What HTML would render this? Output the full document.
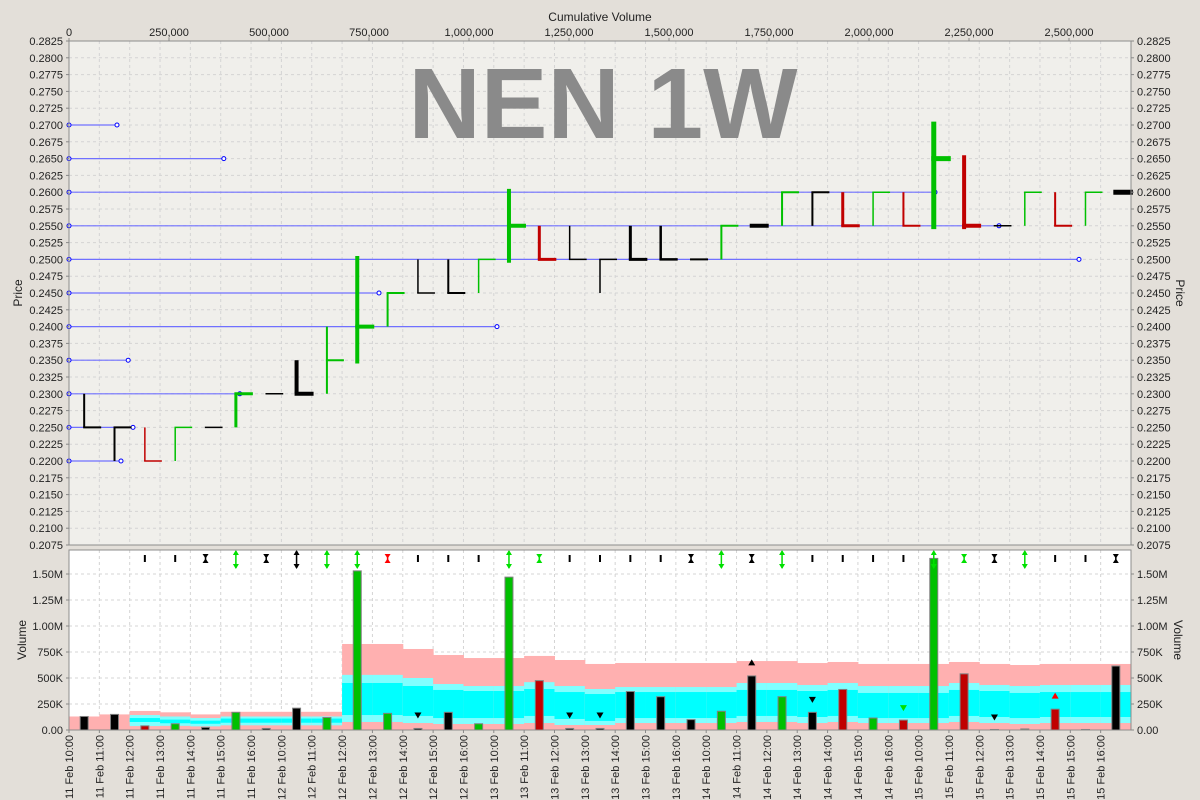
<!DOCTYPE html>
<html><head><meta charset="utf-8"><style>
html,body{margin:0;padding:0;background:#e3dfd9;}
svg{display:block;font-family:"Liberation Sans",sans-serif;}
</style></head><body>
<svg id="chart" width="1200" height="800" viewBox="0 0 1200 800" xmlns="http://www.w3.org/2000/svg">
<rect x="0" y="0" width="1200" height="800" fill="#e3dfd9"/>
<rect x="69" y="41" width="1062" height="504" fill="#f0efeb"/>
<rect x="69" y="550" width="1062" height="180" fill="#ffffff"/>
<g id="grid"></g>
<text x="603" y="138" text-anchor="middle" font-size="100" font-weight="bold" fill="#8a8a8a">NEN 1W</text>
<g id="bands"></g>
<g id="vbars"></g>
<g id="levels"></g>
<g id="pbars"></g>
<g id="markers"></g>
<g id="axes"></g>
<text x="600" y="21" text-anchor="middle" font-size="12" fill="#222">Cumulative Volume</text>
<text transform="translate(22,293) rotate(-90)" text-anchor="middle" font-size="12" fill="#222">Price</text>
<text transform="translate(1176,293) rotate(90)" text-anchor="middle" font-size="12" fill="#222">Price</text>
<text transform="translate(26,640) rotate(-90)" text-anchor="middle" font-size="12" fill="#222">Volume</text>
<text transform="translate(1174,640) rotate(90)" text-anchor="middle" font-size="12" fill="#222">Volume</text>
</svg>
<script>
const categories=["11 Feb 10:00","11 Feb 11:00","11 Feb 12:00","11 Feb 13:00","11 Feb 14:00","11 Feb 15:00","11 Feb 16:00",
"12 Feb 10:00","12 Feb 11:00","12 Feb 12:00","12 Feb 13:00","12 Feb 14:00","12 Feb 15:00","12 Feb 16:00",
"13 Feb 10:00","13 Feb 11:00","13 Feb 12:00","13 Feb 13:00","13 Feb 14:00","13 Feb 15:00","13 Feb 16:00",
"14 Feb 10:00","14 Feb 11:00","14 Feb 12:00","14 Feb 13:00","14 Feb 14:00","14 Feb 15:00","14 Feb 16:00",
"15 Feb 10:00","15 Feb 11:00","15 Feb 12:00","15 Feb 13:00","15 Feb 14:00","15 Feb 15:00","15 Feb 16:00"];
const highs=[.2300,.2250,.2250,.2250,.2250,.2300,.2300,.2350,.2400,.2505,.2450,.2500,.2500,.2500,.2605,.2550,.2550,.2500,.2550,.2550,.2500,.2550,.2550,.2600,.2600,.2600,.2600,.2600,.2705,.2655,.2550,.2600,.2600,.2600,.2600];
const lows=[.2250,.2200,.2200,.2200,.2250,.2250,.2300,.2300,.2300,.2345,.2400,.2450,.2450,.2450,.2495,.2500,.2500,.2450,.2500,.2500,.2500,.2500,.2550,.2550,.2550,.2550,.2550,.2550,.2545,.2545,.2550,.2550,.2550,.2550,.2600];
const closes=[.2250,.2250,.2200,.2250,.2250,.2300,.2300,.2300,.2350,.2400,.2450,.2450,.2450,.2500,.2550,.2500,.2500,.2500,.2500,.2500,.2500,.2550,.2550,.2600,.2600,.2550,.2600,.2550,.2650,.2550,.2550,.2600,.2550,.2600,.2600];
const barColors=["k","k","r","g","k","g","k","k","g","g","g","k","k","g","g","r","k","k","k","k","k","g","k","g","k","r","g","r","g","r","k","g","r","g","k"];
const barWeights=[2,2,1.5,1.5,1.5,3,1.5,4,2,4,2,1.5,2,1.5,4,3,1.5,1.5,3,2.5,2,2,4,2,2,3,1.5,2,5,4,1.5,1.5,2,1.5,5];
const volumes=[130000,150000,40000,60000,25000,170000,15000,210000,120000,1530000,160000,15000,170000,60000,1470000,475000,15000,15000,370000,320000,100000,180000,520000,320000,170000,390000,115000,95000,1650000,540000,5000,10000,200000,5000,615000];
const bandPinkTop=[130,150,183,170,150,175,175,175,175,827,827,779,721,692,692,712,673,635,644,644,644,644,663,663,644,654,635,635,635,654,635,625,635,635,635];
const bandLightTop=[0,0,144,130,115,130,130,130,130,530,530,500,442,423,423,460,423,394,413,413,413,413,452,452,433,452,423,423,423,452,433,423,433,433,433];
const bandCyanTop=[0,0,115,100,90,110,110,110,110,452,452,423,385,375,375,394,365,346,365,365,365,365,385,385,375,385,356,356,356,385,375,356,365,365,365];
const bandCyanBot=[0,0,77,65,60,70,70,70,70,144,144,135,115,115,115,135,106,87,115,115,115,115,135,135,125,135,115,115,115,135,125,115,125,125,125];
const bandLightBot=[0,0,38,40,35,45,45,45,45,77,77,67,58,58,58,67,48,48,67,67,67,67,77,77,67,77,67,67,67,77,67,58,67,67,67];
const levelPrices=[.2700,.2650,.2600,.2550,.2500,.2450,.2400,.2350,.2300,.2250,.2200];
const levelVolumes=[120000,387000,2165000,2325000,2525000,775000,1070000,148000,427000,160000,130000];
const topMarkerTypes=["","","I","I","H","A","H","A","A","A","H","I","I","I","A","H","I","I","I","I","H","A","H","A","I","I","I","I","A","H","H","A","I","I","H"];
const topMarkerColors=["","","k","k","k","g","k","k","g","g","r","k","k","k","g","g","k","k","k","k","k","g","k","g","k","k","k","k","g","g","k","g","k","k","k"];
const triMarkerValues=[null,null,null,null,null,null,null,null,null,null,null,140000,null,null,null,null,140000,140000,220000,null,null,null,650000,null,290000,null,null,210000,null,null,120000,null,330000,null,null];
const triMarkerDirs=["","","","","","","","","","","","v","","","","","v","v","v","","","","^","","v","","","v","","","v","","^","",""];
const triMarkerColors=["","","","","","","","","","","","k","","","","","k","k","k","","","","k","","k","","","g","","","k","","r","",""];
const priceTicks=[.2825,.2800,.2775,.2750,.2725,.2700,.2675,.2650,.2625,.2600,.2575,.2550,.2525,.2500,.2475,.2450,.2425,.2400,.2375,.2350,.2325,.2300,.2275,.2250,.2225,.2200,.2175,.2150,.2125,.2100,.2075];
const volTicks=[0,250000,500000,750000,1000000,1250000,1500000];
const volTickLabels=["0.00","250K","500K","750K","1.00M","1.25M","1.50M"];
const cumTicks=[0,250000,500000,750000,1000000,1250000,1500000,1750000,2000000,2250000,2500000];
const cumTickLabels=["0","250,000","500,000","750,000","1,000,000","1,250,000","1,500,000","1,750,000","2,000,000","2,250,000","2,500,000"];

const NS="http://www.w3.org/2000/svg";
const PL=69,PR=1131,PT=41,PB=545,VT=550,VB=730;
const catW=(PR-PL)/categories.length;
const COL={k:"#000",r:"#c00000",g:"#00c000"};
function yP(p){return PT+(0.2825-p)/(0.2825-0.2075)*(PB-PT);}
function yV(v){return VB-v/1750000*(VB-548);}
function xCat(i){return PL+(i+0.5)*catW;}
function xEdge(i){return PL+i*catW;}
function xCum(v){return PL+v/2500000*1000;}
function mk(tag,attrs,parent){const e=document.createElementNS(NS,tag);for(const k in attrs)e.setAttribute(k,attrs[k]);parent.appendChild(e);return e;}

const grid=document.getElementById('grid');
for(let i=1;i<categories.length;i++){
  let l=mk('line',{x1:xEdge(i),x2:xEdge(i),y1:PT,y2:PB,stroke:"#d4d4d4","stroke-dasharray":"3,3"},grid);
  
  
  let l2=mk('line',{x1:xEdge(i),x2:xEdge(i),y1:VT,y2:VB,stroke:"#d4d4d4","stroke-dasharray":"3,3"},grid);
  
  
}
priceTicks.forEach(p=>{
  let l=mk('line',{x1:PL,x2:PR,y1:yP(p),y2:yP(p),stroke:"#d4d4d4","stroke-dasharray":"3,3"},grid);
  
  
});
volTicks.forEach(v=>{
  let l=mk('line',{x1:PL,x2:PR,y1:yV(v),y2:yV(v),stroke:"#d4d4d4","stroke-dasharray":"3,3"},grid);
  
  
});

const bands=document.getElementById('bands');
function band(i,top,bot,fill,name){
  if(top<=bot)return;
  const r=mk('rect',{x:xEdge(i),y:yV(top*1000),width:catW+0.5,height:yV(bot*1000)-yV(top*1000),fill:fill},bands);
  
  
}
for(let i=0;i<categories.length;i++){
  band(i,bandPinkTop[i],0,"#ffb0b0","band-pink");
  band(i,bandLightTop[i],bandLightBot[i],"#80ffff","band-light-cyan");
  band(i,bandCyanTop[i],bandCyanBot[i],"#00ffff","band-cyan");
}

const vb=document.getElementById('vbars');
volumes.forEach((v,i)=>{
  const r=mk('rect',{x:xCat(i)-4,y:yV(v),width:8,height:VB-yV(v),fill:COL[barColors[i]],stroke:"#808080","stroke-width":1},vb);
  
  
});

const lv=document.getElementById('levels');
levelPrices.forEach((p,i)=>{
  const l=mk('line',{x1:PL,x2:xCum(levelVolumes[i]),y1:yP(p),y2:yP(p),stroke:"#7070ff","stroke-width":1.2},lv);
  
  
  const c=mk('circle',{cx:xCum(levelVolumes[i]),cy:yP(p),r:2,fill:"#fff",stroke:"#0000ff","stroke-width":1},lv);
  
  
  const c0=mk('circle',{cx:PL,cy:yP(p),r:2,fill:"#fff",stroke:"#0000ff","stroke-width":1},lv);
  
  
});

const pb=document.getElementById('pbars');
highs.forEach((h,i)=>{
  const g=mk('g',{},pb);
  
  
  const x=xCat(i),w=barWeights[i],c=COL[barColors[i]];
  if(h>lows[i]) mk('line',{x1:x,x2:x,y1:yP(h),y2:yP(lows[i]),stroke:c,"stroke-width":w},g);
  mk('line',{x1:x-w/2,x2:x+17,y1:yP(closes[i]),y2:yP(closes[i]),stroke:c,"stroke-width":w},g);
});

const mg=document.getElementById('markers');
topMarkerTypes.forEach((t,i)=>{
  if(!t)return;
  const x=xCat(i),c=topMarkerColors[i]==="g"?"#00e000":(topMarkerColors[i]==="r"?"#ff0000":"#000");
  const g=mk('g',{},mg);
  
  
  if(t==="I"){mk('line',{x1:x,x2:x,y1:555,y2:562,stroke:c,"stroke-width":2},g);}
  else if(t==="H"){mk('path',{d:`M${x-3},554 L${x+3},554 L${x},558.5 Z M${x-3},563 L${x+3},563 L${x},558.5 Z`,fill:c},g);mk('line',{x1:x,x2:x,y1:554,y2:563,stroke:c,"stroke-width":1.5},g);}
  else {mk('line',{x1:x,x2:x,y1:551,y2:568,stroke:c,"stroke-width":1.5},g);mk('path',{d:`M${x-3},555 L${x+3},555 L${x},550 Z M${x-3},564 L${x+3},564 L${x},569 Z`,fill:c},g);}
});
triMarkerValues.forEach((v,i)=>{
  if(v===null)return;
  const x=xCat(i),y=yV(v),c=triMarkerColors[i]==="g"?"#00e000":(triMarkerColors[i]==="r"?"#ff0000":"#000");
  const d=triMarkerDirs[i]==="v"?`M${x-3.5},${y-3} L${x+3.5},${y-3} L${x},${y+3} Z`:`M${x-3.5},${y+3} L${x+3.5},${y+3} L${x},${y-3} Z`;
  const p=mk('path',{d:d,fill:c},mg);
  
  
});

const ax=document.getElementById('axes');
function frame(y1,y2){
  const r=mk('rect',{x:PL,y:y1,width:PR-PL,height:y2-y1,fill:"none",stroke:"#8c8c8c","stroke-width":1},ax);
  
  
}
frame(PT,PB);frame(VT,VB);
priceTicks.forEach(p=>{
  const y=yP(p);
  mk('line',{x1:PL-3,x2:PL,y1:y,y2:y,stroke:"#888"},ax);
  mk('line',{x1:PR,x2:PR+3,y1:y,y2:y,stroke:"#888"},ax);
  const t=mk('text',{x:PL-6,y:y+4,"text-anchor":"end","font-size":11,fill:"#222"},ax);
  t.textContent=p.toFixed(4);
  
  
  const t2=mk('text',{x:PR+6,y:y+4,"font-size":11,fill:"#222"},ax);
  t2.textContent=p.toFixed(4);
  
  
});
volTicks.forEach((v,i)=>{
  const y=yV(v);
  mk('line',{x1:PL-3,x2:PL,y1:y,y2:y,stroke:"#888"},ax);
  mk('line',{x1:PR,x2:PR+3,y1:y,y2:y,stroke:"#888"},ax);
  const t=mk('text',{x:PL-6,y:y+4,"text-anchor":"end","font-size":11,fill:"#222"},ax);
  t.textContent=volTickLabels[i];
  
  
  const t2=mk('text',{x:PR+6,y:y+4,"font-size":11,fill:"#222"},ax);
  t2.textContent=volTickLabels[i];
  
  
});
cumTicks.forEach((v,i)=>{
  const x=xCum(v);
  mk('line',{x1:x,x2:x,y1:PT-3,y2:PT,stroke:"#888"},ax);
  const t=mk('text',{x:x,y:PT-5,"text-anchor":"middle","font-size":11,fill:"#222"},ax);
  t.textContent=cumTickLabels[i];
  
  
});
categories.forEach((c,i)=>{
  const x=xEdge(i);
  mk('line',{x1:x,x2:x,y1:VB,y2:VB+3,stroke:"#888"},ax);
  const t=mk('text',{transform:`translate(${x+4},${VB+5}) rotate(-90)`,"text-anchor":"end","font-size":11,fill:"#222"},ax);
  t.textContent=c;
  
  
});
</script>
</body></html>
